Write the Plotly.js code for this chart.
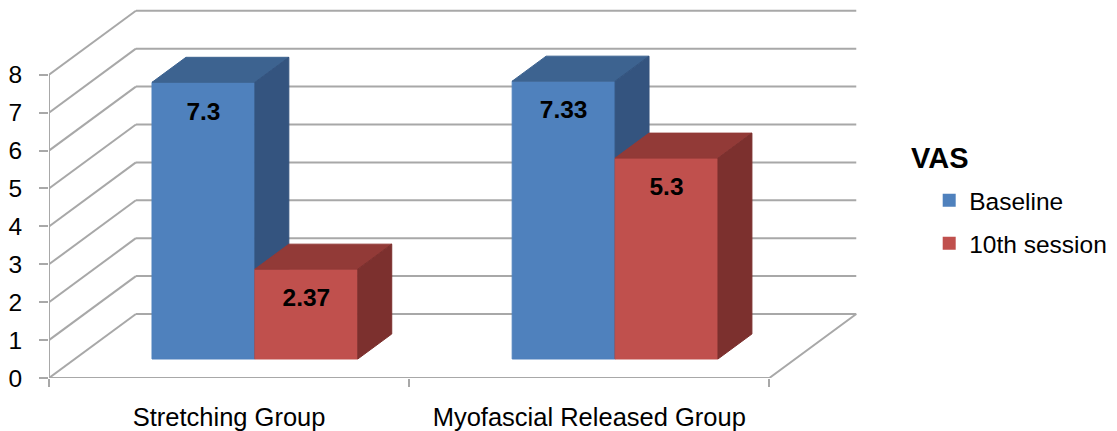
<!DOCTYPE html>
<html><head><meta charset="utf-8">
<script src="https://cdn.plot.ly/plotly-3.0.1.min.js"></script>
<style>html,body{margin:0;padding:0;background:#fff}#chart{width:1117px;height:431px}</style>
</head><body><div id="chart"></div>
<script>
// ---- data ----
const categories = ['Stretching Group', 'Myofascial Released Group'];
const seriesNames = ['Baseline', '10th session'];
const baseline = [7.3, 7.33];
const session10 = [2.37, 5.3];
const yTickVals = [0, 1, 2, 3, 4, 5, 6, 7, 8];
const legendTitle = 'VAS';

// ---- 3D projection / style ----
const series = [baseline, session10];
const DX = 0.2413, DY = 1.689;      // full-depth oblique shift (axis units)
const D1 = 0.297, D2 = 0.6875;      // bar front/back depth fractions
const BW = 0.2857;                  // bar width (category units)
const colors = [
  {front: '#4f81bd', top: '#3d6390', side: '#34547f'},
  {front: '#c0504d', top: '#923a37', side: '#7c302e'}
];
const gridColor = '#a8a8a8';
const FONT = 'Liberation Sans, Arial, sans-serif';
const xLeft = -0.5, xRight = categories.length - 0.5;
const yMax = yTickVals[yTickVals.length - 1];

const traces = [];
// grid / walls
const gx = [], gy = [];
yTickVals.forEach(v => {
  gx.push(xLeft + DX, xRight + DX, null); gy.push(v + DY, v + DY, null);
  gx.push(xLeft, xLeft + DX, null); gy.push(v, v + DY, null);
});
gx.push(xLeft, xLeft, null); gy.push(0, yMax, null);
gx.push(xLeft, xRight, xRight + DX, null); gy.push(0, 0, DY, null);
traces.push({x: gx, y: gy, mode: 'lines', line: {color: gridColor, width: 2},
  showlegend: false, hoverinfo: 'skip'});

function poly(xs, ys, color) {
  traces.push({x: xs.concat([xs[0]]), y: ys.concat([ys[0]]), mode: 'lines', fill: 'toself',
    fillcolor: color, line: {color: color, width: 1}, showlegend: false, hoverinfo: 'skip'});
}
const x1 = D1 * DX, y1 = D1 * DY, x2 = D2 * DX, y2 = D2 * DY;
const lx = [], ly = [], lt = [];
categories.forEach((c, i) => {
  series.forEach((vals, s) => {
    const v = vals[i];
    const ul = i - BW + s * BW, ur = ul + BW;
    const col = colors[s];
    poly([ul + x1, ur + x1, ur + x1, ul + x1], [y1, y1, y1 + v, y1 + v], col.front);
    poly([ul + x1, ur + x1, ur + x2, ul + x2], [y1 + v, y1 + v, y2 + v, y2 + v], col.top);
    poly([ur + x1, ur + x2, ur + x2, ur + x1], [y1, y2, y2 + v, y1 + v], col.side);
    lx.push((ul + ur) / 2 + x1); ly.push(y1 + v - 0.82); lt.push(String(v));
  });
});
traces.push({x: lx, y: ly, text: lt, mode: 'text', textposition: 'middle center',
  textfont: {family: FONT, size: 24.5, color: '#000', weight: 700},
  showlegend: false, hoverinfo: 'skip'});
// legend entries
seriesNames.forEach((n, s) => {
  traces.push({x: [null], y: [null], name: n, mode: 'markers', legendgroup: n,
    marker: {symbol: 'square', size: 13, color: colors[s].front}});
});

const layout = {
  width: 1117, height: 431,
  margin: {l: 49, r: 253, t: 6, b: 53},
  paper_bgcolor: '#fff', plot_bgcolor: '#fff',
  font: {family: FONT, size: 24, color: '#000'},
  showlegend: true,
  xaxis: {range: [xLeft, xRight + 0.26], tickvals: categories.map((c, i) => i), ticktext: categories,
    showgrid: false, zeroline: false, showline: false, ticks: '', ticklabelstandoff: 21,
    tickfont: {size: 25.5},
    minor: {ticks: 'outside', tick0: -0.5, dtick: 1, ticklen: 8, tickwidth: 2, tickcolor: gridColor, showgrid: false}},
  yaxis: {range: [0, 9.815], tickvals: yTickVals, showgrid: false, zeroline: false, showline: false,
    ticks: 'outside', ticklen: 9, tickwidth: 2, tickcolor: gridColor, ticklabelstandoff: 12,
    tickfont: {size: 24.5}},
  legend: {x: 1.08, y: 0.538, xanchor: 'left', yanchor: 'top', traceorder: 'grouped', tracegroupgap: 8,
    font: {size: 24.5}, bgcolor: 'rgba(0,0,0,0)'},
  annotations: [{text: legendTitle, xref: 'paper', yref: 'paper', x: 1.056, y: 0.591,
    xanchor: 'left', yanchor: 'middle', showarrow: false, font: {size: 29, weight: 700}}]
};
Plotly.newPlot('chart', traces, layout, {displayModeBar: false, staticPlot: true});
</script></body></html>
